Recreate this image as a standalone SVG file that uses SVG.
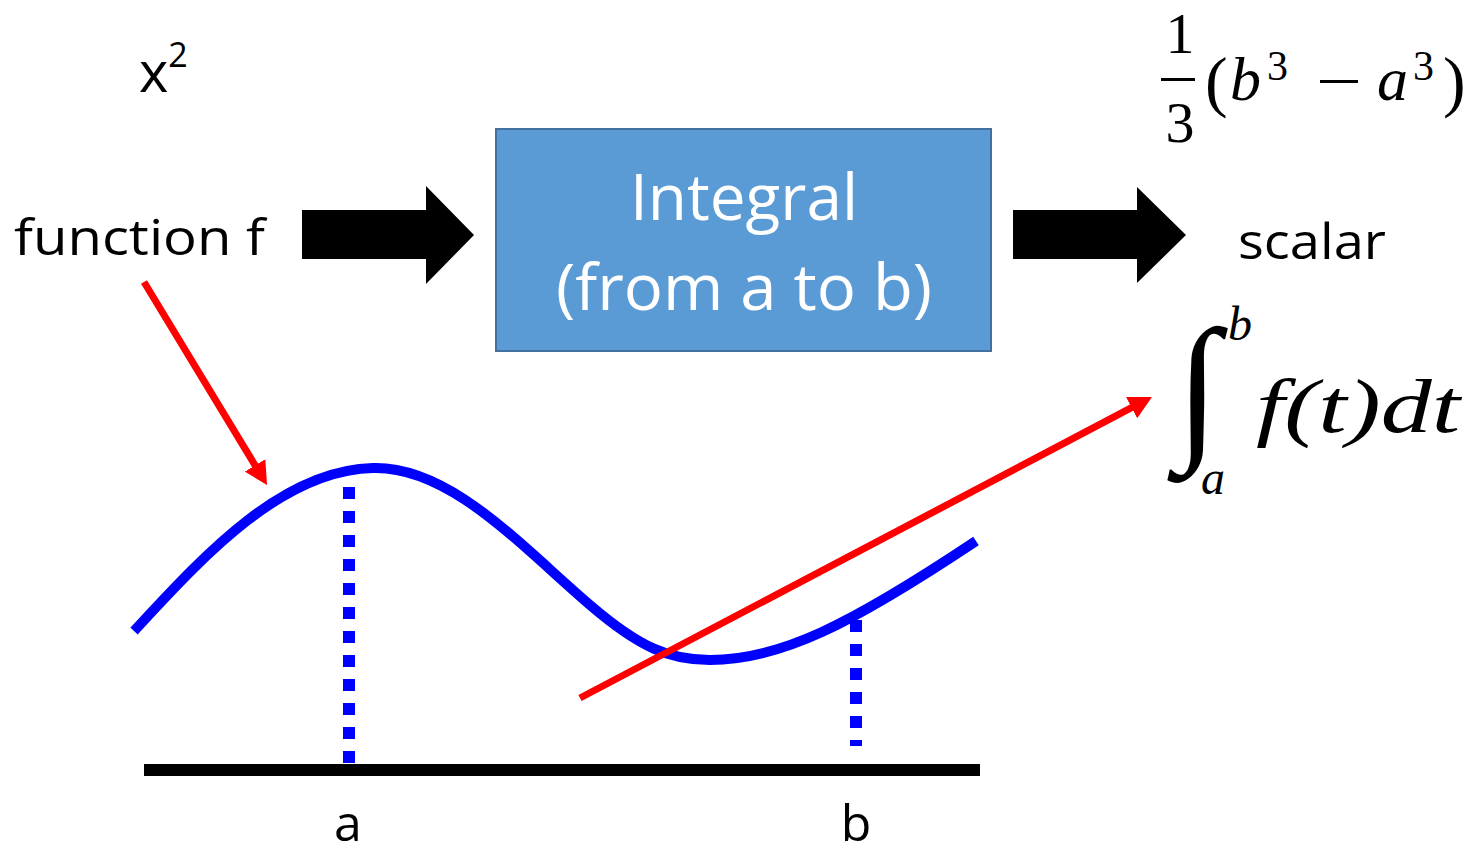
<svg xmlns="http://www.w3.org/2000/svg" width="1480" height="854" viewBox="0 0 1480 854">
<style>
.lbl{font-family:"Open Sans","Liberation Sans",sans-serif;fill:#000}
.box-t{font-family:"Open Sans","Liberation Sans",sans-serif;fill:#fff;font-size:64px;text-anchor:middle}
.math{font-family:"Liberation Serif","DejaVu Serif",serif;fill:#000}
.it{font-style:italic}
.red{stroke:#ff0000;stroke-width:7;fill:none}
</style>
<defs>
<marker id="redhead" viewBox="0 -12 23 24" markerWidth="23" markerHeight="24" refX="1" refY="0" orient="auto" markerUnits="userSpaceOnUse">
<path d="M0,-12 L23,0 L0,12 Z" fill="#ff0000"/>
</marker>
</defs>
<rect width="1480" height="854" fill="#fff"/>

<g id="label-x2">
<text class="lbl" x="139" y="92" font-size="56">x<tspan font-size="34" dy="-25">2</tspan></text>
</g>
<g id="label-function">
<text class="lbl" x="14" y="255" font-size="50" textLength="251" lengthAdjust="spacingAndGlyphs">function f</text>
</g>
<g id="integral-box">
<rect x="496" y="129" width="495" height="222" fill="#5B9BD5" stroke="#41719C" stroke-width="2"/>
<text class="box-t" x="744" y="220" textLength="228" lengthAdjust="spacingAndGlyphs">Integral</text>
<text class="box-t" x="744" y="310" textLength="376" lengthAdjust="spacingAndGlyphs">(from a to b)</text>
</g>
<g id="label-scalar">
<text class="lbl" x="1238" y="259" font-size="50" textLength="148" lengthAdjust="spacingAndGlyphs">scalar</text>
</g>
<g id="formula-result">
<text class="math" x="1180" y="53" font-size="58" text-anchor="middle">1</text>
<rect x="1161" y="78" width="34" height="3" fill="#000"/>
<text class="math" x="1180" y="142" font-size="58" text-anchor="middle">3</text>
<text class="math" x="1205" y="104" font-size="68">(</text>
<text class="math it" x="1230" y="100" font-size="62">b</text>
<text class="math" x="1267" y="80" font-size="42">3</text>
<rect x="1320" y="80" width="38" height="3" fill="#000"/>
<text class="math it" x="1377" y="100" font-size="62">a</text>
<text class="math" x="1413" y="80" font-size="42">3</text>
<text class="math" x="1443" y="104" font-size="68">)</text>
</g>
<g id="formula-integral">
<text class="math it" x="1176" y="440" font-size="160">∫</text>
<text class="math it" x="1228" y="340" font-size="48">b</text>
<text class="math it" x="1201" y="494" font-size="48">a</text>
<text class="math it" x="1256" y="432" font-size="76" textLength="204" lengthAdjust="spacingAndGlyphs">f(t)dt</text>
</g>

<g id="connectors">
<polygon points="302,210 426,210 426,186 474,235 426,284 426,259 302,259" fill="#000"/>
<polygon points="1013,210 1137,210 1137,187 1186,235 1137,283 1137,259 1013,259" fill="#000"/>
<line class="red" x1="144" y1="282" x2="255.6" y2="466.2" marker-end="url(#redhead)"/>
</g>

<g id="graph">
<line x1="144" y1="770" x2="980" y2="770" stroke="#000" stroke-width="12"/>
<line x1="349" y1="487" x2="349" y2="764" stroke="#0000ff" stroke-width="12" stroke-dasharray="12 12"/>
<line x1="856" y1="620" x2="856" y2="746" stroke="#0000ff" stroke-width="12" stroke-dasharray="12 12"/>
<path d="M134,631 C200,560 280,470 373,468 C450,466 520,545 590,605 C640,648 670,660 710,660 C780,660 850,625 976,541" fill="none" stroke="#0000ff" stroke-width="10"/>
<line class="red" x1="580" y1="698" x2="1132.5" y2="407.2" marker-end="url(#redhead)"/>
<text class="lbl" x="348" y="841" font-size="50" text-anchor="middle">a</text>
<text class="lbl" x="856" y="841" font-size="50" text-anchor="middle">b</text>
</g>
</svg>
